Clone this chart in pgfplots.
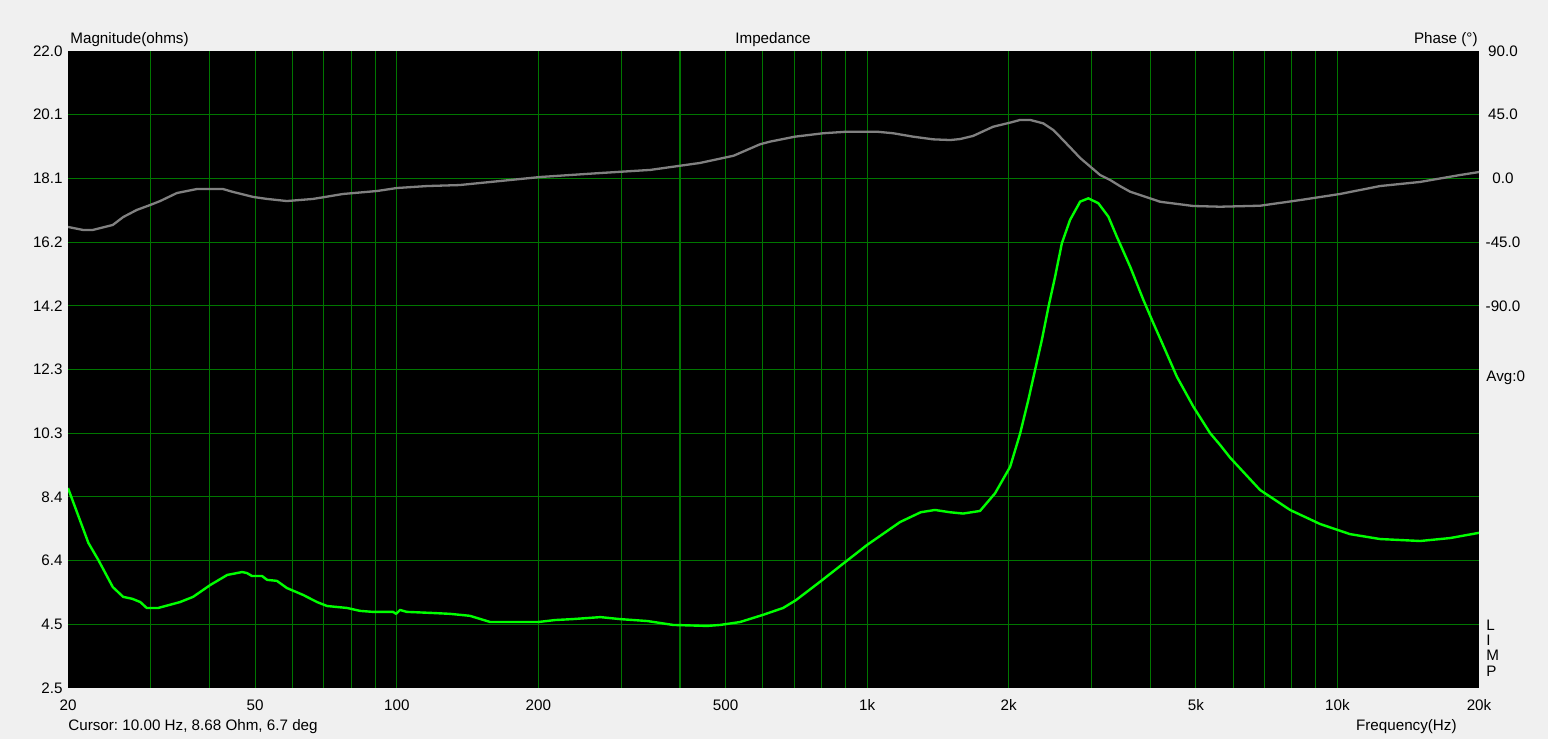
\documentclass[border=0pt]{standalone}
\usepackage{pgfplots}
\usepackage{pgfplotstable}
\pgfplotsset{compat=1.18}
\usepackage{fontspec}
\setmainfont{Liberation Sans}

\definecolor{panel}{RGB}{240,240,240}
\definecolor{gridgreen}{RGB}{0,118,0}
\definecolor{impgreen}{RGB}{0,255,0}
\definecolor{phasegray}{RGB}{128,128,128}

% impedance magnitude (Hz, ohms)
\pgfplotstableread{
f Z
20 8.62
22.1 6.94
23.2 6.42
24.9 5.59
26.2 5.29
27.4 5.23
28.5 5.13
29.4 4.95
31.1 4.95
34.6 5.13
36.9 5.29
40.1 5.65
43.6 5.96
46.9 6.05
48.0 6.02
49.2 5.93
51.7 5.93
53.0 5.81
55.6 5.78
58.4 5.56
63.2 5.35
67.7 5.13
71.1 5.01
78.4 4.95
83.6 4.86
89 4.83
98.2 4.83
99.7 4.77
101.6 4.89
105 4.83
117.7 4.80
129.8 4.77
143 4.71
158 4.52
166 4.52
200 4.52
217 4.58
237 4.61
271 4.67
298 4.61
341 4.55
387 4.43
457 4.40
487 4.43
537 4.52
601 4.74
663 4.95
706 5.19
794 5.75
1000 6.88
1175 7.58
1300 7.88
1394 7.95
1500 7.88
1600 7.84
1738 7.92
1871 8.46
2014 9.27
2115 10.29
2202 11.32
2276 12.24
2352 13.15
2430 14.17
2510 15.09
2594 16.11
2701 16.83
2838 17.39
2954 17.49
3102 17.34
3258 16.93
3395 16.32
3624 15.40
3868 14.38
4060 13.67
4302 12.85
4556 12.03
4940 11.11
5362 10.30
5630 9.94
5914 9.55
6848 8.56
7933 7.95
9186 7.52
10638 7.21
12320 7.06
14990 7.00
17360 7.09
20000 7.25
}\magdata

% phase (Hz, degrees)
\pgfplotstableread{
f P
20 -34.3
21.5 -36.4
22.6 -36.4
24.9 -32.9
26.2 -27.3
28.0 -22.3
29.9 -18.8
31.4 -16.0
34.1 -10.3
37.6 -7.5
42.7 -7.5
44.9 -9.6
49.5 -13.1
53.0 -14.5
58.4 -16.0
66.4 -14.5
76.9 -11.0
90.8 -8.9
100 -6.8
116 -5.4
136 -4.7
202 1.0
271 3.8
346 6.0
441 10.9
520 16.0
592 24.1
622 26.0
703 29.5
807 31.9
906 33.0
1049 33.0
1136 31.9
1252 29.5
1381 27.6
1502 27.1
1576 27.8
1680 30.0
1853 36.5
2014 39.4
2115 41.3
2221 41.3
2368 38.9
2487 34.2
2548 30.7
2700 22.0
2838 14.4
3129 2.4
3286 -1.1
3452 -5.5
3624 -9.4
4198 -16.5
4940 -19.5
5630 -20.0
6848 -19.3
8331 -15.3
10130 -11.0
12320 -5.4
14990 -2.5
18230 2.4
20000 4.5
}\phasedata

\begin{document}
\frenchspacing
\begin{tikzpicture}[font=\fontsize{7.6}{9}\selectfont]
\fill[panel] (-34pt,-25.5pt) rectangle (740pt,344pt);

% magnitude axis, left
\begin{axis}[
    scale only axis,
    width=705.5pt, height=318.5pt,
    at={(0,0)}, anchor=south west,
    xmode=log,
    xmin=20, xmax=20000,
    axis line style={draw=none},
    major tick length=0pt, minor tick length=0pt,
    axis background/.style={fill=black},
    ymin=2.5, ymax=22.0,
    xtick={50,100,200,500,1000,2000,5000,10000},
    xticklabels={50,100,200,500,1k,2k,5k,10k},
    minor xtick={30,40,60,70,80,90,300,400,600,700,800,900,3000,4000,6000,7000,8000,9000},
    extra x ticks={20,20000},
    extra x tick labels={20,20k},
    extra x tick style={grid=none},
    ytick={4.45,6.4,8.35,10.3,12.25,14.2,16.15,18.1,20.05},
    yticklabels={4.5,6.4,8.4,10.3,12.3,14.2,16.2,18.1,20.1},
    extra y ticks={2.5,22.0},
    extra y tick labels={2.5,22.0},
    extra y tick style={grid=none},
    xmajorgrids, xminorgrids, ymajorgrids,
    major grid style={draw=gridgreen, line width=0.55pt},
    minor grid style={draw=gridgreen, line width=0.55pt},
    xticklabel style={anchor=center, yshift=-8.5pt},
    yticklabel style={anchor=east, inner sep=0pt, xshift=-2.5pt},
]
\addplot[color=impgreen, line width=1.2pt, line join=round] table[x=f, y=Z] {\magdata};
\end{axis}

% phase axis, right
\begin{axis}[
    scale only axis,
    width=705.5pt, height=318.5pt,
    at={(0,0)}, anchor=south west,
    xmode=log,
    xmin=20, xmax=20000,
    axis line style={draw=none},
    major tick length=0pt, minor tick length=0pt,
    ymin=-360, ymax=90,
    hide x axis,
    axis y line*=right,
    ytick={-90,-45,0,45,90},
    yticklabels={-90.0,-45.0,0.0,45.0,90.0},
    yticklabel style={anchor=center, xshift=12pt},
]
\addplot[color=phasegray, line width=1.15pt, line join=round] table[x=f, y=P] {\phasedata};
\end{axis}

\node[anchor=west, inner sep=0pt] at (1pt,324pt) {Magnitude(ohms)};
\node[inner sep=0pt] at (352.5pt,324pt) {Impedance};
\node[anchor=east, inner sep=0pt] at (705pt,324pt) {Phase (°)};
\node[anchor=west, inner sep=0pt] at (709pt,155pt) {Avg:0};
\node[anchor=west, inner sep=0pt] at (709pt,31.5pt) {L};
\node[anchor=west, inner sep=0pt] at (709pt,24pt) {I};
\node[anchor=west, inner sep=0pt] at (709pt,16.5pt) {M};
\node[anchor=west, inner sep=0pt] at (709pt,8.5pt) {P};
\node[anchor=west, inner sep=0pt] at (0pt,-19.5pt) {Cursor: 10.00 Hz, 8.68 Ohm, 6.7 deg};
\node[anchor=east, inner sep=0pt] at (694.5pt,-19.5pt) {Frequency(Hz)};
\end{tikzpicture}
\end{document}
